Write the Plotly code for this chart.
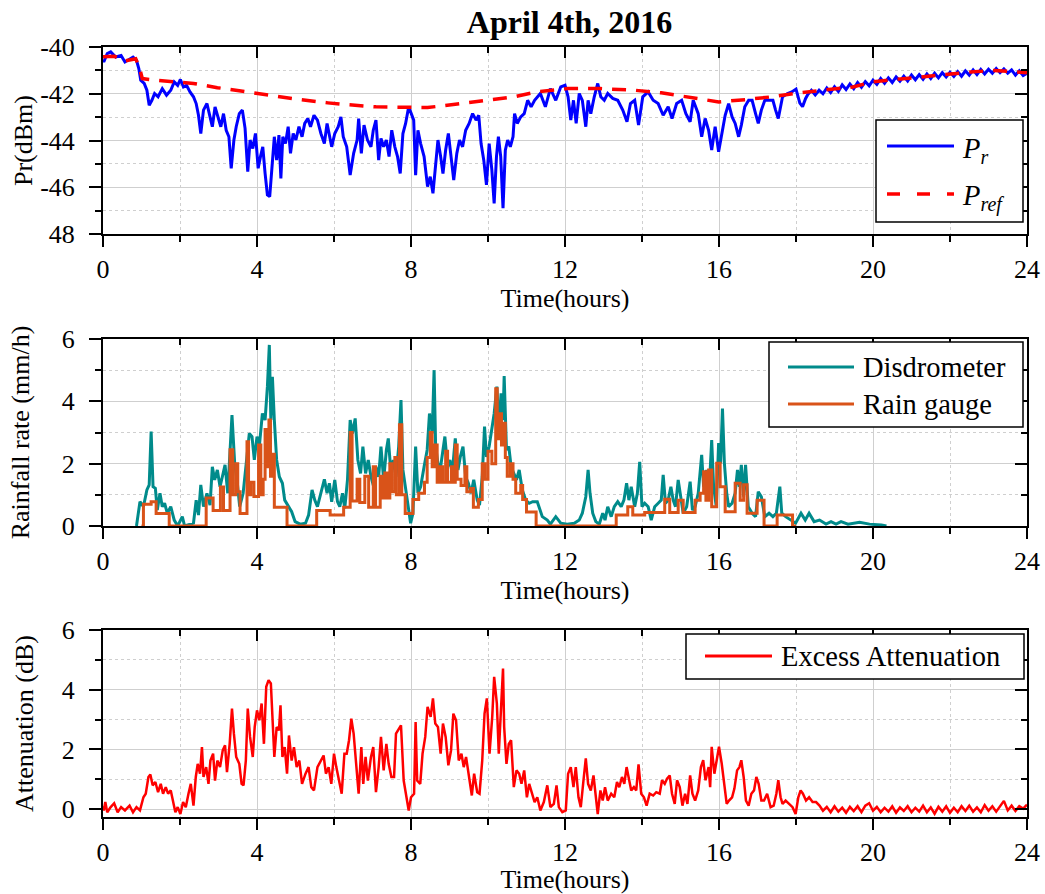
import plotly.graph_objects as go

FONT = "Liberation Serif"

# ---------------- data ----------------
# Received power P_r (dBm), (hour, value)
PR = [(0.0,-40.55),(0.02,-40.64),(0.11,-40.28),(0.2,-40.21),(0.33,-40.43),(0.47,-40.36),(0.57,-40.64),
      (0.69,-40.5),(0.78,-40.43),(0.87,-40.57),(0.93,-40.92),(0.98,-41.42),(1.07,-41.56),(1.14,-41.85),
      (1.2,-42.49),(1.27,-42.28),(1.34,-41.99),(1.43,-42.13),(1.54,-41.78),(1.65,-42.06),(1.76,-41.85),
      (1.85,-41.49),(1.94,-41.64),(2.01,-41.39),(2.09,-41.71),(2.17,-41.64),(2.26,-41.92),(2.35,-42.13),
      (2.42,-42.42),(2.48,-42.92),(2.54,-43.7),(2.61,-42.7),(2.7,-42.42),(2.78,-42.99),(2.84,-43.41),
      (2.91,-42.56),(2.99,-43.06),(3.06,-43.41),(3.13,-42.85),(3.2,-43.56),(3.27,-43.84),(3.33,-45.19),
      (3.4,-43.98),(3.46,-43.41),(3.54,-42.85),(3.62,-42.7),(3.69,-43.48),(3.76,-45.33),(3.82,-43.98),
      (3.89,-44.34),(3.96,-43.7),(4.03,-45.19),(4.09,-44.69),(4.15,-44.27),(4.21,-45.41),(4.27,-46.33),
      (4.33,-46.4),(4.39,-45.12),(4.45,-43.84),(4.51,-44.84),(4.57,-43.77),(4.62,-45.62),(4.67,-43.84),
      (4.74,-44.13),(4.81,-43.41),(4.87,-44.55),(4.94,-43.7),(5.01,-43.98),(5.09,-43.41),(5.17,-43.84),
      (5.24,-43.27),(5.32,-43.06),(5.39,-43.41),(5.48,-42.92),(5.57,-43.13),(5.66,-43.7),(5.75,-44.13),
      (5.82,-43.27),(5.88,-43.7),(5.94,-44.27),(6.02,-43.7),(6.11,-43.41),(6.18,-42.99),(6.24,-43.84),
      (6.33,-44.27),(6.42,-45.48),(6.51,-44.55),(6.6,-43.98),(6.64,-43.06),(6.71,-44.55),(6.78,-43.34),
      (6.87,-43.98),(6.96,-44.27),(7.02,-43.56),(7.09,-43.13),(7.16,-44.84),(7.22,-43.91),(7.29,-44.27),
      (7.36,-43.98),(7.43,-44.69),(7.5,-43.56),(7.58,-44.27),(7.65,-44.69),(7.72,-45.41),(7.79,-43.7),
      (7.86,-43.27),(7.94,-42.56),(8.01,-42.85),(8.07,-43.13),(8.12,-45.48),(8.18,-43.56),(8.25,-44.13),
      (8.34,-44.69),(8.43,-45.97),(8.5,-45.55),(8.57,-46.26),(8.63,-45.26),(8.7,-43.98),(8.77,-44.69),
      (8.83,-45.41),(8.9,-44.41),(8.97,-43.7),(9.04,-44.69),(9.11,-45.69),(9.19,-44.55),(9.26,-43.98),
      (9.34,-44.27),(9.42,-43.56),(9.51,-43.27),(9.6,-42.85),(9.69,-43.13),(9.76,-42.92),(9.82,-44.13),
      (9.89,-44.84),(9.96,-45.9),(10.03,-44.13),(10.1,-45.26),(10.16,-46.69),(10.22,-44.69),(10.27,-43.84),
      (10.33,-44.69),(10.39,-46.9),(10.45,-44.41),(10.51,-43.98),(10.58,-44.27),(10.65,-43.84),
      (10.69,-42.85),(10.76,-43.27),(10.85,-42.99),(10.94,-42.85),(11.03,-42.28),(11.12,-42.56),
      (11.21,-42.28),(11.36,-41.99),(11.49,-42.56),(11.62,-41.78),(11.76,-42.28),(11.89,-41.71),
      (12.0,-41.64),(12.08,-42.13),(12.15,-43.13),(12.22,-42.28),(12.29,-43.27),(12.37,-41.99),
      (12.45,-42.28),(12.54,-43.41),(12.6,-42.28),(12.67,-42.85),(12.76,-42.13),(12.85,-41.56),
      (12.93,-42.13),(13.02,-42.28),(13.11,-41.99),(13.24,-42.2),(13.37,-42.28),(13.5,-42.7),
      (13.61,-43.2),(13.7,-42.42),(13.81,-42.28),(13.91,-43.34),(14.02,-42.13),(14.16,-41.92),
      (14.29,-42.28),(14.42,-42.42),(14.55,-42.92),(14.68,-42.56),(14.78,-43.06),(14.9,-42.42),
      (15.03,-42.28),(15.14,-42.85),(15.25,-43.2),(15.33,-42.28),(15.46,-42.85),(15.55,-43.84),
      (15.64,-43.06),(15.73,-43.56),(15.81,-44.41),(15.9,-43.41),(15.99,-44.48),(16.07,-43.7),
      (16.16,-42.92),(16.25,-42.42),(16.34,-42.99),(16.42,-43.27),(16.51,-43.84),(16.58,-43.34),
      (16.67,-42.56),(16.77,-42.28),(16.86,-42.28),(16.95,-42.85),(17.02,-43.27),(17.1,-42.7),
      (17.19,-42.28),(17.3,-42.28),(17.4,-42.28),(17.47,-42.7),(17.54,-43.06),(17.65,-42.13),
      (17.78,-41.99),(17.89,-41.92),(18.0,-41.8),(18.1,-42.4),(18.17,-42.55),(18.25,-42.2),
      (18.3,-42.05),(18.4,-41.85),(18.5,-42.05),(18.6,-41.85),(18.7,-42.0),(18.8,-41.75),(18.9,-41.95),
      (19.0,-41.7),(19.1,-41.9),(19.2,-41.62),(19.3,-41.82),(19.4,-41.58),(19.5,-41.78),(19.6,-41.52),
      (19.7,-41.72),(19.8,-41.48),(19.9,-41.66),(20.0,-41.42),(20.1,-41.6),(20.2,-41.35),(20.3,-41.55),
      (20.4,-41.32),(20.5,-41.52),(20.6,-41.28),(20.7,-41.46),(20.8,-41.25),(20.9,-41.45),(21.0,-41.2),
      (21.1,-41.4),(21.2,-41.18),(21.3,-41.38),(21.4,-41.15),(21.5,-41.35),(21.6,-41.12),(21.7,-41.32),
      (21.8,-41.1),(21.9,-41.28),(22.0,-41.08),(22.1,-41.26),(22.2,-41.05),(22.3,-41.25),(22.4,-41.02),
      (22.5,-41.2),(22.6,-40.98),(22.7,-41.18),(22.8,-40.96),(22.9,-41.15),(23.0,-40.95),(23.1,-41.12),
      (23.2,-40.92),(23.3,-41.1),(23.4,-40.94),(23.5,-41.12),(23.6,-40.98),(23.7,-41.2),(23.8,-41.02),
      (23.9,-41.22),(24.0,-41.12)]

# Reference power P_ref (dBm)
PREF = [(0.0,-40.42),(0.3,-40.4),(0.55,-40.6),(0.85,-40.5),(0.95,-40.9),(1.02,-41.35),(1.36,-41.42),
        (2.35,-41.56),(2.97,-41.74),(3.69,-41.92),(4.4,-42.1),(5.12,-42.25),(5.84,-42.39),(6.2,-42.45),
        (7.09,-42.56),(7.99,-42.59),(8.43,-42.59),(9.15,-42.45),(9.96,-42.28),(10.67,-42.13),
        (11.28,-41.92),(12.06,-41.78),(12.93,-41.78),(13.81,-41.85),(14.5,-41.96),(15.12,-42.13),
        (15.99,-42.35),(16.69,-42.25),(17.38,-42.13),(18.08,-41.96),(18.78,-41.85),(19.48,-41.71),
        (20.0,-41.49),(20.79,-41.35),(21.66,-41.21),(22.53,-41.07),(23.14,-41.0),(23.84,-41.07),
        (24.0,-41.1)]

# Disdrometer rainfall rate (mm/h)
DIS = [(0.85,0.0),(0.87,0.0),(0.96,0.78),(1.05,0.62),(1.14,1.16),(1.2,1.32),(1.25,3.03),(1.3,1.26),
       (1.36,1.21),(1.41,0.51),(1.48,1.05),(1.54,0.62),(1.6,0.73),(1.67,0.41),(1.76,0.62),(1.85,0.19),
       (1.94,0.0),(2.06,0.3),(2.12,0.0),(2.26,0.06),(2.35,0.09),(2.42,0.83),(2.48,0.35),(2.54,1.32),
       (2.61,0.62),(2.7,1.05),(2.78,0.67),(2.84,1.9),(2.9,1.48),(2.97,1.8),(3.04,1.26),(3.1,1.58),
       (3.17,1.96),(3.24,1.05),(3.29,2.12),(3.35,3.56),(3.42,2.01),(3.49,1.37),(3.55,0.62),(3.64,1.05),
       (3.73,2.12),(3.8,2.97),(3.87,2.87),(3.93,2.12),(4.0,2.87),(4.06,2.55),(4.14,3.61),(4.21,3.4),
       (4.27,4.47),(4.32,5.81),(4.36,3.4),(4.4,4.79),(4.45,3.4),(4.51,2.12),(4.58,1.58),(4.66,1.37),
       (4.72,0.83),(4.81,0.62),(4.9,0.46),(4.99,0.14),(5.12,0.06),(5.26,0.09),(5.34,0.35),(5.43,1.16),
       (5.5,0.83),(5.57,0.62),(5.66,1.05),(5.75,1.5),(5.82,1.05),(5.88,1.37),(5.94,0.78),(6.02,1.48),
       (6.09,0.78),(6.15,0.62),(6.22,1.05),(6.28,0.57),(6.35,1.48),(6.42,3.4),(6.48,2.97),(6.55,3.45),
       (6.62,2.12),(6.69,1.69),(6.75,2.55),(6.82,1.69),(6.89,2.12),(6.96,1.58),(7.03,1.26),(7.09,1.9),
       (7.16,1.58),(7.22,2.55),(7.29,1.48),(7.36,2.44),(7.41,2.81),(7.48,1.69),(7.54,2.12),(7.61,1.58),
       (7.68,2.55),(7.74,4.04),(7.79,1.8),(7.86,1.16),(7.93,0.51),(7.99,0.09),(8.05,0.41),(8.12,2.55),
       (8.18,1.05),(8.25,1.26),(8.34,1.9),(8.42,2.44),(8.48,3.61),(8.55,2.97),(8.6,5.0),(8.64,2.55),
       (8.7,2.01),(8.77,1.9),(8.83,2.44),(8.88,2.87),(8.95,1.9),(9.01,2.12),(9.07,1.69),(9.15,2.81),
       (9.22,1.8),(9.28,2.22),(9.35,2.55),(9.42,1.58),(9.49,1.37),(9.56,1.05),(9.63,1.48),(9.72,0.83),
       (9.78,0.67),(9.85,1.58),(9.91,3.19),(9.96,2.22),(10.03,2.55),(10.09,3.08),(10.16,3.61),
       (10.23,4.47),(10.28,3.19),(10.34,4.26),(10.39,3.4),(10.42,4.81),(10.48,2.44),(10.54,2.55),
       (10.6,1.9),(10.67,1.69),(10.74,1.48),(10.81,1.8),(10.89,1.16),(10.98,0.83),(11.07,0.73),
       (11.16,0.78),(11.28,0.78),(11.41,0.3),(11.54,0.19),(11.62,0.06),(11.76,0.3),(11.89,0.09),
       (12.06,0.06),(12.24,0.09),(12.37,0.19),(12.45,0.41),(12.54,0.94),(12.6,1.8),(12.65,1.05),
       (12.72,0.41),(12.8,0.14),(12.89,0.06),(12.98,0.41),(13.04,0.19),(13.11,0.62),(13.2,0.3),
       (13.28,0.62),(13.37,0.78),(13.46,0.62),(13.53,0.83),(13.6,1.37),(13.66,0.83),(13.72,1.26),
       (13.81,0.62),(13.88,1.05),(13.94,2.06),(14.0,0.62),(14.07,0.73),(14.16,0.62),(14.24,0.19),
       (14.33,0.62),(14.42,0.73),(14.5,0.83),(14.55,1.64),(14.61,0.73),(14.68,0.83),(14.75,1.26),
       (14.81,0.83),(14.87,0.62),(14.94,1.48),(15.01,0.83),(15.07,0.41),(15.16,0.62),(15.25,1.42),
       (15.31,0.51),(15.38,0.62),(15.46,1.05),(15.55,2.28),(15.6,1.26),(15.68,1.8),(15.74,1.05),
       (15.81,2.76),(15.86,1.26),(15.93,0.62),(15.99,2.66),(16.04,2.01),(16.09,3.77),(16.14,2.01),
       (16.2,1.05),(16.25,0.62),(16.34,0.73),(16.42,1.05),(16.48,1.8),(16.53,1.26),(16.58,1.96),
       (16.64,0.94),(16.69,1.96),(16.76,0.62),(16.86,0.41),(16.95,0.3),(17.02,1.1),(17.1,0.94),
       (17.19,0.3),(17.3,0.41),(17.4,0.3),(17.49,0.41),(17.58,1.26),(17.63,0.41),(17.73,0.3),
       (17.86,0.19),(17.99,0.09),(18.13,0.41),(18.24,0.19),(18.34,0.41),(18.47,0.14),(18.61,0.19),
       (18.78,0.06),(18.91,0.14),(19.04,0.06),(19.17,0.14),(19.35,0.06),(19.65,0.12),(19.91,0.06),
       (20.22,0.03),(20.35,0.0)]

# Rain gauge rainfall rate (mm/h), step values (start hour, value)
GAUGE = [(1.0,0.0),(1.05,0.7),(1.25,0.78),(1.38,0.4),(1.72,0.0),(2.68,0.9),(2.86,0.5),(3.05,1.25),
         (3.13,0.5),(3.3,2.45),(3.37,1.0),(3.45,2.0),(3.5,1.1),(3.56,0.4),(3.74,2.7),(3.78,1.0),
         (3.84,1.4),(3.92,0.95),(4.04,2.6),(4.1,1.0),(4.16,1.5),(4.21,3.1),(4.26,1.9),(4.31,3.4),
         (4.35,1.6),(4.4,2.3),(4.45,0.6),(4.78,0.0),(5.55,0.5),(5.9,0.35),(6.25,0.6),(6.42,3.0),
         (6.47,0.8),(6.6,1.5),(6.67,0.75),(6.8,1.6),(6.9,0.6),(7.02,1.9),(7.08,0.6),(7.2,1.6),
         (7.26,0.9),(7.32,1.7),(7.38,0.9),(7.45,2.0),(7.5,1.1),(7.58,2.2),(7.62,1.0),(7.7,3.25),
         (7.76,1.0),(7.85,0.4),(8.05,0.85),(8.2,1.05),(8.35,1.4),(8.42,2.2),(8.5,3.0),(8.55,1.9),
         (8.62,2.6),(8.68,1.4),(8.75,1.9),(8.82,1.4),(8.9,2.4),(8.95,1.4),(9.05,1.9),(9.1,1.4),
         (9.15,2.6),(9.2,1.5),(9.3,1.3),(9.4,1.9),(9.45,1.1),(9.55,1.2),(9.62,0.6),(9.75,0.85),
         (9.85,2.0),(9.92,1.5),(10.0,2.4),(10.1,2.0),(10.2,4.4),(10.24,2.8),(10.3,3.6),(10.35,2.6),
         (10.4,3.3),(10.45,2.2),(10.5,1.6),(10.58,2.0),(10.65,1.5),(10.72,1.05),(10.85,1.3),
         (10.9,0.85),(11.0,0.45),(11.25,0.0),(13.33,0.35),(13.63,0.62),(13.76,0.35),(14.07,0.43),
         (14.59,0.86),(14.72,0.43),(14.94,0.83),(15.07,0.43),(15.38,0.83),(15.51,1.05),(15.6,1.74),
         (15.66,0.83),(15.73,1.8),(15.81,0.62),(15.94,2.01),(16.03,1.26),(16.16,0.46),(16.42,1.37),
         (16.55,0.83),(16.64,1.32),(16.73,0.41),(16.99,0.83),(17.17,0.0),(17.51,0.35),(17.91,0.0),
         (18.0,0.0)]

# Excess attenuation (dB)
ATT = [(0.0,0.1),(0.02,-0.04),(0.06,0.24),(0.11,-0.1),(0.2,0.07),(0.29,0.2),(0.38,-0.1),(0.47,0.07),
       (0.57,-0.04),(0.69,0.12),(0.78,-0.1),(0.87,0.07),(0.96,-0.04),(1.05,0.4),(1.11,0.52),(1.18,1.08),
       (1.23,1.16),(1.29,0.8),(1.36,0.91),(1.43,0.57),(1.5,0.85),(1.56,0.52),(1.63,0.74),(1.69,0.52),
       (1.76,0.63),(1.83,0.18),(1.88,-0.1),(1.94,0.07),(2.01,-0.16),(2.08,0.24),(2.15,0.07),(2.22,0.52),
       (2.28,0.85),(2.35,0.12),(2.41,1.08),(2.46,1.52),(2.52,1.19),(2.57,2.08),(2.61,1.08),(2.68,1.41),
       (2.74,0.85),(2.79,1.63),(2.86,1.86),(2.91,0.96),(2.97,1.63),(3.04,1.41),(3.11,1.97),(3.17,2.14),
       (3.22,1.24),(3.29,2.19),(3.35,3.37),(3.4,2.53),(3.46,1.75),(3.54,1.52),(3.6,0.85),(3.65,0.8),
       (3.71,1.63),(3.76,3.37),(3.82,2.42),(3.89,1.75),(3.94,2.75),(4.0,3.31),(4.06,2.98),(4.12,3.54),
       (4.18,2.19),(4.24,4.1),(4.3,4.32),(4.36,4.21),(4.4,3.03),(4.45,1.75),(4.51,2.75),(4.57,2.64),
       (4.61,3.48),(4.66,1.75),(4.72,2.08),(4.78,1.19),(4.83,2.47),(4.9,1.63),(4.96,2.08),(5.03,1.41),
       (5.1,1.63),(5.17,0.85),(5.26,1.19),(5.34,1.41),(5.41,0.74),(5.48,0.63),(5.57,1.41),(5.66,1.63),
       (5.73,1.8),(5.79,1.19),(5.86,1.41),(5.93,0.85),(6.0,1.86),(6.06,1.41),(6.13,0.96),(6.2,0.52),
       (6.27,1.86),(6.33,1.86),(6.39,2.31),(6.45,3.03),(6.51,2.53),(6.57,1.63),(6.64,0.52),(6.71,2.08),
       (6.76,0.85),(6.82,1.75),(6.88,0.96),(6.96,1.75),(7.02,2.08),(7.09,0.57),(7.16,1.41),(7.22,2.42),
       (7.29,1.3),(7.36,2.19),(7.42,1.52),(7.49,1.08),(7.56,1.08),(7.61,2.53),(7.67,2.64),(7.74,2.81),
       (7.81,0.96),(7.88,0.4),(7.94,-0.04),(8.0,0.4),(8.08,0.52),(8.12,2.92),(8.16,0.96),(8.24,0.85),
       (8.3,1.86),(8.37,2.42),(8.43,3.43),(8.51,3.09),(8.57,3.71),(8.63,2.87),(8.7,2.75),(8.77,1.86),
       (8.83,2.87),(8.9,2.42),(8.97,1.47),(9.04,1.97),(9.1,3.2),(9.17,2.98),(9.24,1.63),(9.31,1.86),
       (9.37,1.41),(9.43,1.75),(9.51,1.08),(9.58,0.46),(9.64,1.19),(9.72,0.57),(9.78,0.52),(9.85,1.63),
       (9.91,3.2),(9.97,3.71),(10.04,1.86),(10.11,3.09),(10.16,4.43),(10.23,3.54),(10.28,1.86),
       (10.34,3.65),(10.39,4.71),(10.42,2.75),(10.48,1.52),(10.54,2.19),(10.6,2.31),(10.67,0.74),
       (10.74,1.3),(10.81,1.19),(10.87,0.85),(10.94,1.3),(11.01,0.4),(11.07,0.85),(11.14,0.52),
       (11.21,0.24),(11.28,0.4),(11.36,-0.04),(11.45,0.24),(11.54,0.8),(11.62,0.07),(11.71,0.18),
       (11.78,0.8),(11.84,0.07),(11.93,-0.1),(12.02,-0.04),(12.08,1.19),(12.15,1.41),(12.22,0.74),
       (12.28,1.41),(12.35,0.4),(12.41,0.07),(12.48,0.97),(12.54,1.7),(12.6,0.85),(12.67,0.63),
       (12.74,1.13),(12.81,0.29),(12.85,-0.16),(12.92,0.63),(12.98,0.29),(13.04,0.74),(13.11,0.29),
       (13.2,0.52),(13.28,0.4),(13.35,0.91),(13.41,0.74),(13.48,1.08),(13.54,0.85),(13.6,1.41),
       (13.66,0.97),(13.72,0.63),(13.79,0.74),(13.85,0.63),(13.91,1.5),(13.98,0.52),(14.05,0.4),
       (14.12,0.12),(14.2,0.52),(14.29,0.46),(14.37,0.57),(14.46,0.52),(14.52,0.97),(14.59,0.85),
       (14.65,1.02),(14.72,1.13),(14.78,0.52),(14.85,0.18),(14.91,0.97),(14.98,0.74),(15.05,0.12),
       (15.12,0.52),(15.18,0.18),(15.25,1.13),(15.31,0.52),(15.38,0.29),(15.46,0.63),(15.53,1.41),
       (15.59,1.64),(15.65,0.97),(15.73,1.41),(15.77,0.74),(15.81,2.09),(15.88,1.19),(15.94,1.64),
       (16.0,2.09),(16.07,1.53),(16.14,0.74),(16.2,0.18),(16.26,0.29),(16.34,0.4),(16.4,0.69),
       (16.47,1.3),(16.53,1.41),(16.58,1.64),(16.64,1.08),(16.7,0.29),(16.77,0.12),(16.84,0.52),
       (16.91,0.63),(16.97,1.08),(17.03,0.85),(17.1,0.29),(17.17,0.29),(17.25,0.52),(17.34,0.07),
       (17.42,0.12),(17.49,0.52),(17.54,0.97),(17.6,0.4),(17.65,0.18),(17.73,0.29),(17.82,0.18),
       (17.91,0.07),(17.99,-0.16),(18.06,0.4),(18.12,0.63),(18.18,0.52),(18.26,0.29),(18.34,0.4),
       (18.43,0.24),(18.52,0.24),(18.61,0.12),(18.7,-0.05),(18.8,0.08),(18.9,-0.1),(19.0,0.1),
       (19.1,-0.08),(19.2,0.05),(19.3,-0.12),(19.4,0.08),(19.5,-0.06),(19.6,0.1),(19.7,-0.1),
       (19.8,0.12),(19.9,0.2),(20.0,-0.05),(20.1,0.08),(20.2,-0.1),(20.3,0.05),(20.4,-0.08),(20.5,0.1),
       (20.6,-0.12),(20.7,0.06),(20.8,-0.06),(20.9,0.1),(21.0,-0.1),(21.1,0.05),(21.2,-0.08),
       (21.3,0.12),(21.4,-0.1),(21.5,0.06),(21.6,-0.15),(21.7,0.08),(21.8,-0.08),(21.9,0.1),
       (22.0,-0.12),(22.1,0.05),(22.2,-0.1),(22.3,0.1),(22.4,-0.06),(22.5,0.12),(22.6,-0.08),
       (22.7,0.06),(22.8,-0.1),(22.9,0.14),(23.0,-0.05),(23.1,0.1),(23.2,-0.08),(23.3,0.12),
       (23.4,0.28),(23.5,-0.04),(23.6,0.12),(23.7,-0.06),(23.8,0.1),(23.9,0.02),(24.0,0.15)]

X_TICKS = [0, 4, 8, 12, 16, 20, 24]
X_MINOR = [2, 6, 10, 14, 18, 22]
Y1_TICKVALS = [-40, -42, -44, -46, -48]
Y1_TICKTEXT = ["-40", "-42", "-44", "-46", "48"]
Y1_MINOR = [-41, -43, -45, -47]
Y23_TICKS = [0, 2, 4, 6]
Y23_MINOR = [1, 3, 5]

# series names / colours
NAMES = ["<i>P</i><sub><i>r</i></sub>", "<i>P</i><sub><i>ref</i></sub>",
         "Disdrometer", "Rain gauge", "Excess Attenuation"]
COLORS = ["#0000FF", "#FF0000", "#008B8B", "#D95319", "#FF0000"]


def unzip(pts):
    return [p[0] for p in pts], [p[1] for p in pts]


# ---------------- figure geometry ----------------
W, H = 1045, 894
ML, MR, MT, MB = 103, 18, 47, 77          # plot area = all three panels
PW, PH = W - ML - MR, H - MT - MB


def px(x):   # figure pixel x -> paper x
    return (x - ML) / PW


def py(y):   # figure pixel y -> paper y
    return (H - MB - y) / PH


YDOM = [[py(234.0), 1.0], [py(526.0), py(339.0)], [0.0, py(630.0)]]
YRANGES = [[-48, -40], [0, 6], [-0.26, 6]]

fig = go.Figure()

t, v = unzip(PR)
fig.add_trace(go.Scatter(x=t, y=v, mode="lines", name=NAMES[0], showlegend=False,
                         line=dict(color=COLORS[0], width=3), xaxis="x", yaxis="y"))
t, v = unzip(PREF)
fig.add_trace(go.Scatter(x=t, y=v, mode="lines", name=NAMES[1], showlegend=False,
                         line=dict(color=COLORS[1], width=3.5, dash="14px,10px"),
                         xaxis="x", yaxis="y"))
t, v = unzip(DIS)
fig.add_trace(go.Scatter(x=t, y=v, mode="lines", name=NAMES[2], showlegend=False,
                         line=dict(color=COLORS[2], width=3), xaxis="x2", yaxis="y2"))
t, v = unzip(GAUGE)
fig.add_trace(go.Scatter(x=t, y=v, mode="lines", name=NAMES[3], line_shape="hv", showlegend=False,
                         line=dict(color=COLORS[3], width=3), xaxis="x2", yaxis="y2"))
t, v = unzip(ATT)
fig.add_trace(go.Scatter(x=t, y=v, mode="lines", name=NAMES[4], showlegend=False,
                         line=dict(color=COLORS[4], width=2.5), xaxis="x3", yaxis="y3"))

# empty helper traces so the mirrored (inside-tick) axes get drawn
for i in range(1, 4):
    sx = "" if i == 1 else str(i)
    fig.add_trace(go.Scatter(x=[None], y=[None], mode="lines", showlegend=False, hoverinfo="skip",
                             xaxis=f"x{i + 3}", yaxis=f"y{sx}"))
    fig.add_trace(go.Scatter(x=[None], y=[None], mode="lines", showlegend=False, hoverinfo="skip",
                             xaxis=f"x{sx}", yaxis=f"y{i + 3}"))

tickfont = dict(family=FONT, size=26, color="black")
titlefont = dict(family=FONT, size=26, color="black")
GRID = "#cfcfcf"

layout = dict(
    width=W, height=H, margin=dict(l=ML, r=MR, t=MT, b=MB, pad=0, autoexpand=False),
    paper_bgcolor="white", plot_bgcolor="white", showlegend=False,
    font=dict(family=FONT, color="black"),
    title=dict(text="<b>April 4th, 2016</b>", font=dict(family=FONT, size=32, color="black"),
               xref="container", yref="container",
               x=569.5 / W, xanchor="center", y=(H - 22) / H, yanchor="middle", automargin=False),
)

y_standoffs = [0, 25, 21]
x_standoff = 4
for i in range(1, 4):
    sx = "" if i == 1 else str(i)
    yr = YRANGES[i - 1]
    if i == 1:
        ytv, ytt, ymin = Y1_TICKVALS, Y1_TICKTEXT, Y1_MINOR
        ytitle = "Pr(dBm)"
    else:
        ytv, ytt, ymin = Y23_TICKS, [str(k) for k in Y23_TICKS], Y23_MINOR
        ytitle = "Rainfall rate (mm/h)" if i == 2 else "Attenuation (dB)"
    layout[f"xaxis{sx}"] = dict(
        domain=[0, 1], anchor=f"y{sx}", range=[0, 24], tickmode="array", tickvals=X_TICKS,
        ticks="outside", ticklen=11, tickwidth=2, tickcolor="black", ticklabelstandoff=0,
        showline=True, linewidth=2, linecolor="black", mirror=True, zeroline=False,
        showgrid=True, gridcolor=GRID, gridwidth=1, tickfont=tickfont, automargin=False,
        minor=dict(tickmode="array", tickvals=X_MINOR, ticks="outside", ticklen=6,
                   tickwidth=2, tickcolor="black", showgrid=True, gridcolor=GRID, griddash="dot",
                   gridwidth=1),
        title=dict(text="Time(hours)", font=titlefont, standoff=x_standoff),
    )
    layout[f"yaxis{sx}"] = dict(
        domain=YDOM[i - 1], anchor=f"x{sx}", range=yr, tickmode="array", tickvals=ytv, ticktext=ytt,
        ticks="outside", ticklen=12, tickwidth=2, tickcolor="black", ticklabelstandoff=9,
        showline=True, linewidth=2, linecolor="black", mirror=True, zeroline=False,
        showgrid=True, gridcolor=GRID, gridwidth=1, tickfont=tickfont, automargin=False,
        minor=dict(tickmode="array", tickvals=ymin, ticks="outside", ticklen=6, tickwidth=2,
                   tickcolor="black", showgrid=True, gridcolor=GRID, griddash="dot", gridwidth=1),
        title=dict(text=ytitle, font=titlefont, standoff=y_standoffs[i - 1]),
    )
    # mirrored axes with inside ticks (top / right)
    layout[f"xaxis{i + 3}"] = dict(
        overlaying=f"x{sx}", anchor=f"y{sx}", side="top", range=[0, 24], tickmode="array",
        tickvals=X_TICKS, ticks="inside", ticklen=11, tickwidth=2, tickcolor="black",
        showticklabels=False, showgrid=False, showline=False, zeroline=False, automargin=False,
        minor=dict(tickmode="array", tickvals=X_MINOR, ticks="inside", ticklen=6,
                   tickwidth=2, tickcolor="black", showgrid=False),
    )
    layout[f"yaxis{i + 3}"] = dict(
        overlaying=f"y{sx}", anchor=f"x{sx}", side="right", range=yr, tickmode="array",
        tickvals=ytv, ticks="inside", ticklen=12, tickwidth=2, tickcolor="black",
        showticklabels=False, showgrid=False, showline=False, zeroline=False, automargin=False,
        minor=dict(tickmode="array", tickvals=ymin, ticks="inside", ticklen=6, tickwidth=2,
                   tickcolor="black", showgrid=False),
    )

# ---------------- legends (boxes, sample lines and labels) ----------------
shapes = []
annotations = []
LEGENDS = [
    # box (x0, y0, x1, y1) in figure pixels, entries: (series index, line y, dash)
    ((876, 120, 1023, 222), [(0, 146, "solid"), (1, 194, "13px,17px")], 887, 954, 960),
    ((769, 342, 1023, 427), [(2, 367, "solid"), (3, 404, "solid")], 788, 854, 861),
    ((686, 634, 1024, 679), [(4, 656, "solid")], 705, 772, 779),
]
legfont = dict(family=FONT, size=28.5, color="black")
for (bx0, by0, bx1, by1), entries, lx0, lx1, tx in LEGENDS:
    shapes.append(dict(type="rect", xref="paper", yref="paper", x0=px(bx0), x1=px(bx1),
                       y0=py(by1), y1=py(by0), line=dict(color="black", width=1.5),
                       fillcolor="white", layer="above"))
    for idx, ly, dash in entries:
        width = 3.5 if idx == 1 else 3
        shapes.append(dict(type="line", xref="paper", yref="paper", x0=px(lx0), x1=px(lx1),
                           y0=py(ly), y1=py(ly), layer="above",
                           line=dict(color=COLORS[idx], width=width, dash=dash)))
        yoff = 4 if idx in (0, 1) else 0
        annotations.append(dict(text=NAMES[idx], xref="paper", yref="paper", x=px(tx),
                                y=py(ly + yoff), xanchor="left", yanchor="middle",
                                showarrow=False, font=legfont))

layout["shapes"] = shapes
layout["annotations"] = annotations

fig.update_layout(**layout)
fig.write_html("out.html")
